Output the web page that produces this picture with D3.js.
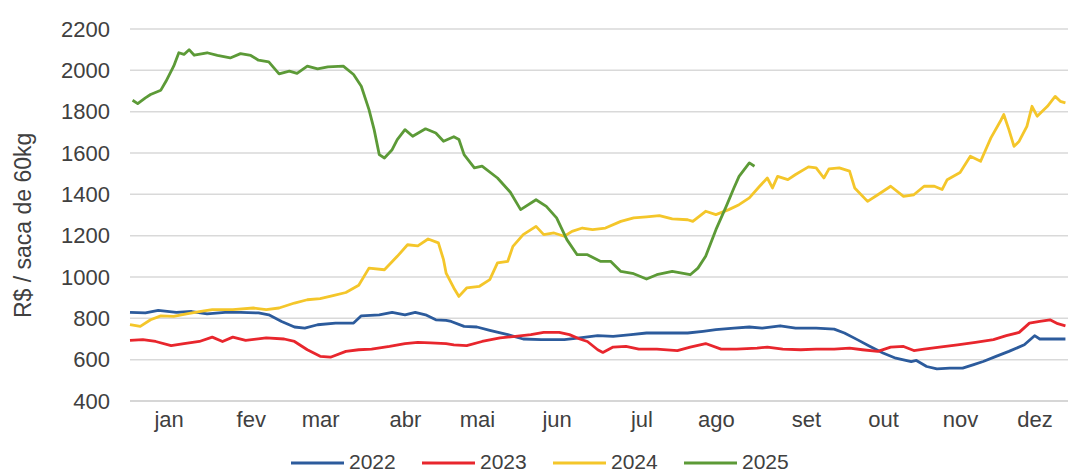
<!DOCTYPE html>
<html>
<head>
<meta charset="utf-8">
<script src="https://cdn.jsdelivr.net/npm/d3@7"></script>
<style>
  body { margin: 0; background: #fff; }
  svg { display: block; font-family: "Liberation Sans", Arial, sans-serif; }
</style>
</head>
<body>
<svg id="chart" width="1068" height="475"></svg>
<script>
// month labels and the day of year they sit on
const months = ['jan', 'fev', 'mar', 'abr', 'mai', 'jun', 'jul', 'ago', 'set', 'out', 'nov', 'dez'];
const monthDays = [15, 47, 74, 107, 135, 166, 199, 228, 263, 293, 323, 352];
const yTicks = [400, 600, 800, 1000, 1200, 1400, 1600, 1800, 2000, 2200];
const years = ['2022', '2023', '2024', '2025'];
const colors = ['#2c5b9c', '#e8262d', '#f4c62a', '#5c9a37'];

// [day of year, R$ / saca]
const s2022 = [[0,829],[6,826],[11,838],[18,829],[24,833],[30,822],[37,829],[43,829],[50,826],[54,817],[59,785],[64,758],[68,753],[73,769],[80,777],[87,777],[90,812],[97,817],[102,829],[107,817],[111,829],[115,817],[119,793],[123,790],[125,785],[130,761],[135,758],[140,742],[147,721],[153,700],[160,697],[169,697],[175,705],[182,716],[188,713],[195,721],[201,729],[209,729],[217,729],[223,737],[228,745],[235,753],[241,758],[246,753],[253,764],[259,753],[267,753],[274,748],[278,729],[283,697],[288,664],[293,632],[298,607],[304,591],[306,596],[310,567],[314,555],[319,559],[324,559],[328,575],[332,591],[337,616],[342,640],[348,672],[352,716],[354,700],[359,700],[364,700]];
const s2023 = [[0,693],[5,697],[10,688],[16,668],[21,678],[27,688],[32,709],[36,688],[40,709],[45,693],[53,705],[60,700],[64,688],[69,648],[74,616],[78,612],[84,640],[89,648],[94,651],[101,664],[107,678],[112,684],[117,681],[123,678],[126,672],[131,668],[137,688],[144,705],[150,713],[156,721],[161,732],[167,732],[171,721],[175,700],[178,688],[182,648],[184,635],[188,661],[193,664],[198,651],[205,651],[213,644],[218,661],[224,678],[230,651],[236,651],[244,656],[248,661],[254,651],[261,648],[267,651],[274,651],[280,656],[285,648],[291,640],[296,661],[301,664],[305,644],[309,651],[315,661],[322,672],[329,684],[336,697],[341,716],[346,732],[350,777],[354,785],[358,793],[361,774],[364,764]];
const s2024 = [[0,769],[4,761],[8,793],[12,812],[17,809],[22,822],[27,833],[32,842],[40,842],[48,850],[53,842],[58,850],[64,874],[69,890],[74,895],[79,910],[84,925],[89,960],[93,1043],[99,1035],[104,1100],[108,1156],[112,1151],[116,1184],[120,1165],[122,1084],[123,1019],[126,947],[128,906],[131,947],[136,955],[140,987],[143,1068],[147,1076],[149,1148],[153,1205],[158,1245],[161,1205],[165,1213],[169,1197],[172,1221],[176,1237],[180,1229],[185,1237],[191,1269],[196,1286],[201,1291],[206,1297],[211,1281],[217,1277],[219,1269],[224,1318],[228,1302],[233,1326],[237,1350],[241,1383],[245,1439],[248,1479],[250,1431],[252,1487],[256,1471],[259,1496],[264,1533],[267,1528],[270,1479],[272,1523],[276,1528],[280,1512],[282,1431],[287,1366],[291,1398],[296,1439],[301,1390],[305,1398],[309,1439],[313,1439],[316,1423],[318,1471],[323,1506],[327,1584],[331,1560],[335,1673],[339,1761],[340,1786],[342,1713],[344,1632],[346,1657],[349,1729],[351,1826],[353,1778],[357,1826],[360,1874],[362,1850],[364,1843]];
const s2025 = [[1,1855],[3,1839],[6,1867],[8,1883],[12,1904],[14,1947],[17,2020],[19,2085],[21,2077],[23,2100],[25,2073],[30,2085],[34,2072],[39,2060],[43,2081],[47,2072],[50,2049],[54,2041],[58,1983],[62,1996],[65,1985],[69,2020],[73,2007],[77,2017],[83,2020],[87,1980],[90,1923],[93,1810],[95,1713],[97,1592],[99,1576],[102,1616],[104,1665],[107,1713],[110,1681],[115,1717],[119,1697],[122,1657],[126,1679],[128,1665],[130,1592],[134,1528],[137,1536],[143,1479],[148,1410],[152,1326],[158,1374],[162,1342],[166,1286],[170,1181],[174,1108],[178,1108],[183,1076],[187,1076],[191,1027],[196,1016],[201,990],[205,1011],[211,1027],[218,1011],[221,1043],[224,1100],[228,1229],[232,1342],[235,1431],[237,1487],[241,1552],[243,1536]];
const seriesData = [s2022, s2023, s2024, s2025];

const svg = d3.select('#chart');
const x = d3.scaleLinear().domain([0, 365]).range([130, 1068]);
const y = d3.scaleLinear().domain([400, 2200]).range([401, 29]);
const textColor = '#404040';
const font = '"Liberation Sans", Arial, sans-serif';

// gridlines
svg.append('g')
  .selectAll('line')
  .data(yTicks)
  .join('line')
  .attr('x1', x(0)).attr('x2', x(365))
  .attr('y1', d => y(d)).attr('y2', d => y(d))
  .attr('stroke', d => d === 400 ? '#c8c8c8' : '#d9d9d9')
  .attr('stroke-width', 1.5);

// y axis labels
const gY = svg.append('g')
  .attr('transform', 'translate(' + x(0) + ',0)')
  .call(d3.axisLeft(y).tickValues(yTicks).tickSize(0).tickPadding(20).tickFormat(d3.format('d')));
gY.select('.domain').remove();
gY.selectAll('text').attr('font-size', 22).attr('fill', textColor).attr('font-family', font);

// x axis labels
const gX = svg.append('g')
  .attr('transform', 'translate(0,' + y(400) + ')')
  .call(d3.axisBottom(x).tickValues(monthDays).tickSize(0).tickPadding(10).tickFormat((d, i) => months[i]));
gX.select('.domain').remove();
gX.selectAll('text').attr('font-size', 22).attr('fill', textColor).attr('font-family', font);

// y title
svg.append('text')
  .attr('transform', 'translate(31,' + y(1250) + ') rotate(-90)')
  .attr('text-anchor', 'middle')
  .attr('font-size', 23)
  .attr('fill', textColor)
  .text('R$ / saca de 60kg');

// lines
const line = d3.line().x(d => x(d[0])).y(d => y(d[1]));
svg.append('g')
  .selectAll('path')
  .data(seriesData)
  .join('path')
  .attr('d', line)
  .attr('fill', 'none')
  .attr('stroke', (d, i) => colors[i])
  .attr('stroke-width', 2.8)
  .attr('stroke-linejoin', 'round');

// legend
const legend = svg.append('g').attr('transform', 'translate(291,461)');
const item = legend.selectAll('g')
  .data(years)
  .join('g')
  .attr('transform', (d, i) => 'translate(' + (i * 131) + ',0)');
item.append('line')
  .attr('x1', 0).attr('x2', 53)
  .attr('y1', 2).attr('y2', 2)
  .attr('stroke', (d, i) => colors[i])
  .attr('stroke-width', 3);
item.append('text')
  .attr('x', 58)
  .attr('dy', '0.36em')
  .attr('font-size', 21)
  .attr('fill', textColor)
  .text(d => d);
</script>
</body>
</html>
